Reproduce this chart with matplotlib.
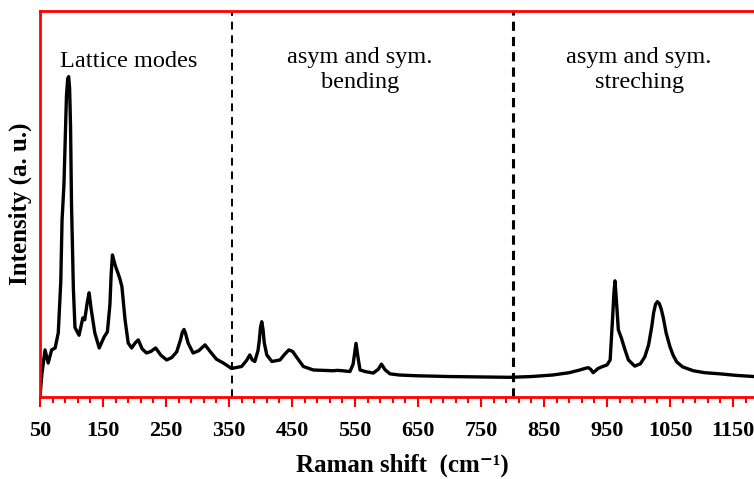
import matplotlib
matplotlib.use("Agg")
import matplotlib.pyplot as plt
from matplotlib.ticker import FixedLocator

plt.rcParams['font.family'] = ['Liberation Serif', 'DejaVu Serif']

# Raman spectrum (wavenumber, intensity a.u.)
raman_shift = [50, 53, 58, 63, 68.5, 74, 79, 83, 85, 88, 92, 94, 95.5, 97, 98.5, 100,
               103, 105.5, 112, 118, 121, 125, 128, 131, 137, 144, 151.6, 157, 161,
               163, 165, 167, 170, 174, 177, 180, 185, 190, 195.5, 201, 206, 212, 219,
               226, 233.6, 242, 251, 259, 267, 273, 276, 278.6, 281, 285, 293, 302,
               312, 320, 330, 341, 354, 370, 378, 383, 387, 391, 396, 398, 400, 402,
               404, 406, 410, 418, 431, 438, 445, 451, 457, 468, 484, 500, 515.5, 522,
               530, 542, 547, 551.6, 555, 558, 566, 579, 587, 592, 598, 605.6, 620,
               648, 700, 750, 796, 830, 864, 890, 907, 915, 920, 924, 928, 936, 943,
               950, 955, 959, 961, 962.7, 964.5, 968, 973, 978, 984, 994, 1003, 1010,
               1016, 1021, 1024, 1027, 1030, 1033, 1036, 1039, 1044, 1050, 1055,
               1060.6, 1070, 1087, 1105, 1129, 1155, 1182, 1200]
intensity = [0, 6, 12.2, 8.8, 12.2, 12.7, 16.6, 30, 45.8, 55, 78, 82.5, 83, 80, 70,
             50, 28, 18, 16, 20.5, 20, 24.5, 27, 23, 16.6, 12.7, 15.5, 16.9, 24, 32,
             36.8, 35.5, 33.8, 32, 30.5, 28.6, 20, 14, 12.7, 14, 14.8, 12.5, 11.4,
             11.8, 12.7, 10.8, 9.6, 10.2, 11.7, 14.8, 16.8, 17.5, 16.5, 14, 11.4, 12,
             13.5, 11.8, 9.8, 8.8, 7.4, 7.9, 9.5, 10.9, 9.6, 9.2, 12, 14.5, 18, 19.5,
             17.5, 14, 10.9, 9.2, 9.6, 11, 12.2, 11.8, 10.4, 7.9, 7, 6.9, 6.8, 6.9,
             6.8, 6.6, 8.5, 13.9, 10, 7, 6.6, 6.2, 7.2, 8.5, 7, 6, 5.7, 5.5, 5.3,
             5.2, 5.1, 5.3, 5.7, 6.3, 7, 7.4, 7.6, 7.2, 6.3, 7.4, 7.9, 8.3, 9.6,
             20.8, 27, 30.1, 26, 17.4, 15.2, 12.5, 9.6, 8.0, 8.6, 10.4, 13.5, 18.2,
             21.8, 24, 24.7, 24.2, 22.8, 20.8, 16.5, 13, 10.8, 9.1, 7.8, 6.8, 6.3,
             6.0, 5.6, 5.3, 5.2]

region_bounds = [355, 800]
tick_labels_at = [50, 150, 250, 350, 450, 550, 650, 750, 850, 950, 1050, 1150]

fig = plt.figure(figsize=(7.54, 4.79), dpi=100)
ax = fig.add_axes([40 / 754, 82 / 479, 724.5 / 754, 386 / 479])

ax.plot(raman_shift, intensity, color='black', lw=2.4,
        solid_joinstyle='round', solid_capstyle='round')

ax.axvline(region_bounds[0], color='black', lw=1.4, ls=(0, (4, 3)))
ax.axvline(region_bounds[1], color='black', lw=2.2, ls=(0, (3, 2)))

ax.set_xlim(50, 1200)
ax.set_ylim(0, 100)

for side in ['left', 'top', 'bottom', 'right']:
    ax.spines[side].set_color('red')
    ax.spines[side].set_linewidth(2)

ax.xaxis.set_major_locator(FixedLocator(tick_labels_at))
ax.xaxis.set_minor_locator(FixedLocator(range(50, 1201, 20)))
ax.tick_params(axis='x', which='major', direction='out', length=7, width=1.5,
               color='red', labelsize=16, pad=10)
ax.tick_params(axis='x', which='minor', direction='out', length=4, width=1.5,
               color='red')
ax.set_yticks([])
for lbl in ax.get_xticklabels():
    lbl.set_fontweight('bold')

ax.set_xlabel('Raman shift  (cm\u207b\u00b9)', fontsize=18, fontweight='bold',
              labelpad=9)
ax.set_ylabel('Intensity (a. u.)', fontsize=18, fontweight='bold', labelpad=6)

ax.text(191, 86.8, 'Lattice modes', fontsize=17.5, ha='center', va='center')
ax.text(558, 84.7, 'asym and sym.\nbending', fontsize=17.5, ha='center',
        va='center', linespacing=1.2)
ax.text(1001, 84.7, 'asym and sym.\nstreching', fontsize=17.5, ha='center',
        va='center', linespacing=1.2)

fig.savefig('out.png', dpi=100)
